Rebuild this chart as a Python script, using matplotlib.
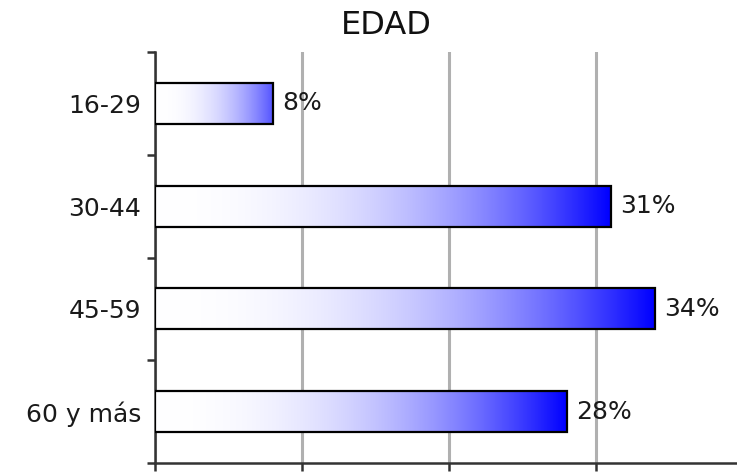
import numpy as np
from matplotlib import pyplot as plt

# age groups and share of respondents (%)
groups = ["16-29", "30-44", "45-59", "60 y más"]
shares = [8, 31, 34, 28]
grid_ticks = [0, 10, 20, 30]

fig = plt.figure(figsize=(7.37, 4.72), dpi=100)
ax = fig.add_axes([155 / 737, 9 / 472, 582 / 737, 411 / 472])

bar_h = 0.4
t = np.linspace(0, 1, 256)
for i, v in enumerate(shares):
    # white -> blue gradient along the bar
    s = t ** 2.3 * min(1.0, v / 12)
    rgb = np.stack([1 - s, 1 - s, np.ones_like(s)], axis=-1)[None, :, :]
    ax.imshow(rgb, extent=[0, v, i + bar_h / 2, i - bar_h / 2],
              aspect="auto", interpolation="bilinear", zorder=3)
    ax.barh(i, v, height=bar_h, fill=False, edgecolor="black",
            linewidth=1.6, zorder=4)
    ax.annotate(f"{v}%", (v, i), xytext=(7, 0), textcoords="offset points",
                va="center", ha="left", fontsize=18, color="#1a1a1a", zorder=5)

ax.set_xlim(0, 39.6)
ax.set_ylim(len(groups) - 0.5, -0.5)

ax.set_xticks(grid_ticks)
ax.set_xticklabels([])
ax.xaxis.grid(True, color="#b0b0b0", linewidth=2.2)
ax.set_axisbelow(True)
ax.tick_params(axis="x", direction="out", length=6, width=1.8, color="#333333")

ax.set_yticks(range(len(groups)))
ax.set_yticklabels(groups, fontsize=18, color="#1a1a1a")
ax.tick_params(axis="y", which="major", length=0, pad=10)
ax.set_yticks(np.arange(-0.5, len(groups)), minor=True)
ax.tick_params(axis="y", which="minor", direction="out", length=6, width=1.8,
               color="#333333")

for side in ["top", "right"]:
    ax.spines[side].set_visible(False)
for side in ["left", "bottom"]:
    ax.spines[side].set_color("#333333")
    ax.spines[side].set_linewidth(1.8)

fig.text(386 / 737, 1 - 26 / 472, "EDAD", ha="center", va="center",
         fontsize=23, color="#111111")

plt.savefig("out.png", dpi=100)
